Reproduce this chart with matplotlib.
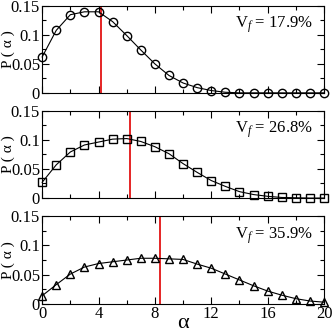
import matplotlib
matplotlib.use("Agg")
import matplotlib.pyplot as plt
from matplotlib.ticker import MultipleLocator

plt.rcParams['font.family'] = ['Liberation Serif', 'DejaVu Serif']
plt.rcParams['mathtext.fontset'] = 'custom'
plt.rcParams['mathtext.rm'] = 'Liberation Serif'
plt.rcParams['mathtext.it'] = 'Liberation Serif:italic'

alpha = list(range(21))
p1 = [0.062, 0.108, 0.135, 0.140, 0.140, 0.123, 0.099, 0.074, 0.050, 0.030,
      0.017, 0.009, 0.004, 0.001, 0.0, 0.0, 0.0, 0.0, 0.0, 0.0, 0.0]
p2 = [0.027, 0.057, 0.079, 0.091, 0.096, 0.101, 0.102, 0.097, 0.088, 0.076,
      0.059, 0.044, 0.030, 0.020, 0.011, 0.006, 0.003, 0.001, 0.0005, 0.0, 0.0]
p3 = [0.014, 0.033, 0.051, 0.063, 0.069, 0.072, 0.075, 0.078, 0.078, 0.077,
      0.076, 0.068, 0.061, 0.051, 0.041, 0.031, 0.022, 0.015, 0.009, 0.005, 0.003]
means = [4.15, 6.2, 8.35]
labels = ["17.9%", "26.8%", "35.9%"]
markers = ["o", "s", "^"]

fig = plt.figure(figsize=(3.32, 3.34), dpi=100)
# axes boxes in figure fractions
boxes = [[0.127, 0.722, 0.849, 0.260],
         [0.127, 0.407, 0.849, 0.262],
         [0.127, 0.090, 0.849, 0.263]]

for i, (p, m) in enumerate(zip([p1, p2, p3], markers)):
    ax = fig.add_axes(boxes[i])
    ax.plot(alpha, p, color="black", lw=0.8, marker=m, ms=6 if m != "s" else 5.5,
            mfc="none", mec="black", mew=1.0, clip_on=False, zorder=3)
    ax.axvline(means[i], color="#e00000", lw=1.2, zorder=2)
    ax.set_xlim(0, 20)
    ax.set_ylim(0, 0.15)
    ax.set_yticks([0, 0.05, 0.1, 0.15])
    ax.set_yticklabels(["0", "0.05", "0.1", "0.15"])
    ax.xaxis.set_major_locator(MultipleLocator(4))
    ax.xaxis.set_minor_locator(MultipleLocator(2))
    ax.yaxis.set_minor_locator(MultipleLocator(0.025))
    ax.tick_params(which="both", direction="in", top=True, right=True,
                   labelsize=12, width=0.8, pad=1.5)
    ax.tick_params(which="major", length=5)
    ax.tick_params(which="minor", length=3)
    ax.set_ylabel("P ( α )", fontsize=11, va="center")
    ax.yaxis.set_label_coords(-0.12, 0.5)
    ax.text(0.96, 0.78, r"V$_{\mathit{f}}$ = " + labels[i], transform=ax.transAxes,
            ha="right", va="center", fontsize=12)
    if i < 2:
        ax.set_xticklabels([])
    else:
        ax.set_xlabel("α", fontsize=16, va="center")
        ax.xaxis.set_label_coords(0.5, -0.22)

fig.savefig("out.png", dpi=100)
